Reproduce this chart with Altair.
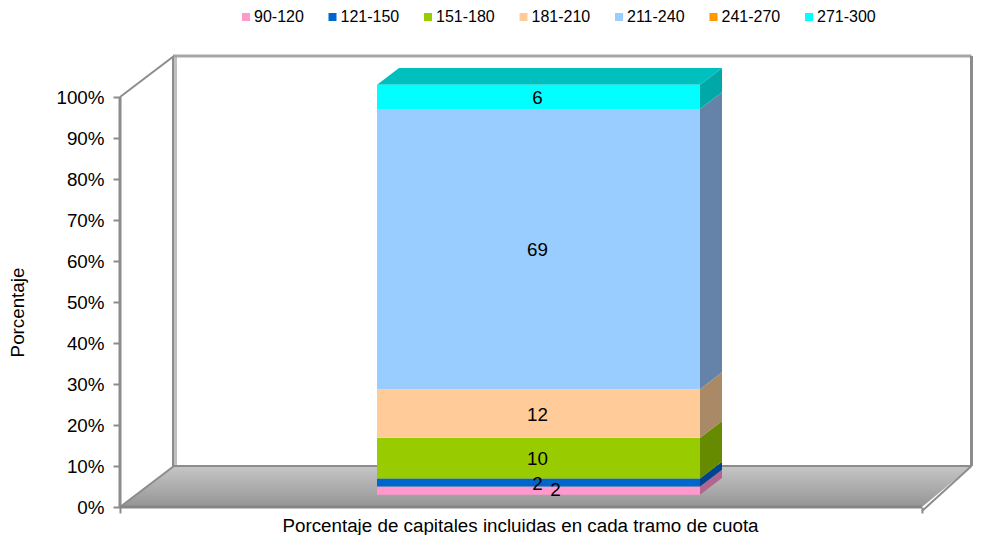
import altair as alt
import pandas as pd

# --- chart values -------------------------------------------------------
tramos = ["90-120", "121-150", "151-180", "181-210", "211-240", "241-270", "271-300"]
valores = [2, 2, 10, 12, 69, 0, 6]
front_colors = ["#ff99cc", "#0066cc", "#99cc00", "#ffcc99", "#99ccff", "#ff9900", "#00ffff"]
side_colors = ["#b0668f", "#00448f", "#668a00", "#aa8a66", "#6583a8", "#aa6600", "#00a8a8"]
top_color = "#00bfbf"
y_ticks = [0, 10, 20, 30, 40, 50, 60, 70, 80, 90, 100]
x_title = "Porcentaje de capitales incluidas en cada tramo de cuota"
y_title = "Porcentaje"

# --- layout of the pseudo-3D box ---------------------------------------
FONT = "Liberation Sans"
PLOT_W, W, H = 853, 851.5, 460
PCT_TOP = 112.2
floor_dx, floor_dy = 54, 10      # depth of the box (x px, y percent)
front_w = 802
bar_l, bar_r = 257, 580
bar_dx, bar_dy = 22, 4.1         # depth of the bar
bar_base = 3.0                   # where the bar stands on the floor

xs = alt.Scale(domain=[0, PLOT_W], range=[0, PLOT_W], nice=False, zero=False)
ys = alt.Scale(domain=[0, PCT_TOP], range=[H, 0], nice=False, zero=False)

x_axis = alt.Axis(
    values=[0, front_w], labels=False, grid=False, domain=False,
    tickSize=6, tickColor="#8c8c8c", tickWidth=2,
    title=x_title, titleFont=FONT, titleFontSize=18.8, titleFontWeight="normal",
    titleColor="#000000", titleX=400, titleY=24, titleBaseline="alphabetic", titleAnchor="middle")
y_axis = alt.Axis(
    values=y_ticks, labelExpr="datum.value + '%'", grid=False, domain=False,
    tickSize=7, tickColor="#8c8c8c", tickWidth=2, labelPadding=9,
    labelFont=FONT, labelFontSize=18.8, labelColor="#000000",
    title=y_title, titleFont=FONT, titleFontSize=18.8, titleFontWeight="normal",
    titleColor="#000000", titleX=-97, titleY=265, titleAngle=270, titleAnchor="middle",
    titleBaseline="alphabetic")


def X():
    return alt.X("x:Q", scale=xs, axis=x_axis)


def Y():
    return alt.Y("y:Q", scale=ys, axis=y_axis)


def X2():
    return alt.X2("x2:Q")


def Y2():
    return alt.Y2("y2:Q")


def area(xvals, lo, hi, fill):
    df = pd.DataFrame({"x": xvals, "y": lo, "y2": hi})
    return alt.Chart(df).mark_area(fill=fill, interpolate="linear").encode(x=X(), y=Y(), y2=Y2())


def line(pts, color, width):
    df = pd.DataFrame({"x": [p[0] for p in pts], "y": [p[1] for p in pts], "i": list(range(len(pts)))})
    return alt.Chart(df).mark_line(color=color, strokeWidth=width, clip=False).encode(x=X(), y=Y(), order="i:Q")


# Box: floor and walls
floor = alt.Chart(pd.DataFrame({
    "x": [0, floor_dx, front_w, W],
    "y": [0, 0, 0, floor_dy],
    "y2": [0, floor_dy, floor_dy, floor_dy],
})).mark_area(
    interpolate="linear",
    fill=alt.Gradient(gradient="linear", x1=0, y1=0, x2=0, y2=1,
                      stops=[alt.GradientStop(offset=0, color="#c6c6c6"),
                             alt.GradientStop(offset=1, color="#959595")]),
).encode(x=X(), y=Y(), y2=Y2())

wall_top = floor_dy + 100
box = [
    floor,
    line([(55.5, floor_dy), (55.5, wall_top)], "#bfbfbf", 3),
    line([(53, floor_dy), (53, wall_top)], "#8c8c8c", 2),
    line([(53, wall_top), (W, wall_top)], "#a6a6a6", 3),
    line([(W, floor_dy), (W, wall_top)], "#8c8c8c", 3),
    line([(0, 100), (floor_dx, wall_top)], "#8c8c8c", 2),
    line([(0, 0), (0, 100)], "#8c8c8c", 3),
    line([(0, 0), (floor_dx, floor_dy)], "#8c8c8c", 2),
    line([(front_w, -1), (W, floor_dy)], "#8c8c8c", 2),
    line([(floor_dx, floor_dy), (W, floor_dy)], "#8c8c8c", 2),
    line([(0, 0), (front_w, 0)], "#858585", 3),
]

# Stacked bar, normalised to 100 %
total = sum(valores)
rows, lo = [], bar_base
for t, v, side in zip(tramos, valores, side_colors):
    hi = lo + v / total * 100
    rows.append({"tramo": t, "valor": v, "y": lo, "y2": hi, "side": side})
    lo = hi
seg = pd.DataFrame(rows)
seg["x"] = bar_l
seg["x2"] = bar_r
bar_top = lo

sides = []
for r in rows:
    if r["valor"] > 0:
        sides.append(area([bar_r, bar_r + bar_dx],
                          [r["y"], r["y"] + bar_dy],
                          [r["y2"], r["y2"] + bar_dy],
                          r["side"]))

top = area([bar_l, bar_l + bar_dx, bar_r, bar_r + bar_dx],
           [bar_top, bar_top, bar_top, bar_top + bar_dy],
           [bar_top, bar_top + bar_dy, bar_top + bar_dy, bar_top + bar_dy],
           top_color)

front = alt.Chart(seg).mark_rect().encode(
    x=X(), x2=X2(), y=Y(), y2=Y2(),
    color=alt.Color("tramo:N", sort=tramos,
                    scale=alt.Scale(domain=tramos, range=front_colors),
                    legend=alt.Legend(
                        orient="none", legendX=118, legendY=-38, direction="horizontal",
                        title=None, symbolType="square", symbolSize=64, symbolStrokeWidth=0,
                        labelFont=FONT, labelFontSize=16, labelColor="#000000",
                        labelOffset=0, columnPadding=20.5, rowPadding=0, columns=7)),
)

# Data labels: the smallest slice's label is shoved aside to stay readable
lab = seg[seg["valor"] > 0].copy()
lab["x"] = (bar_l + bar_r) / 2
lab["y"] = (lab["y"] + lab["y2"]) / 2
lab.loc[lab.index[0], "x"] += 18
lab.loc[lab.index[0], "y"] += 0.4
labels = alt.Chart(lab).mark_text(font=FONT, fontSize=18.8, color="#000000", baseline="middle", dx=-1, dy=1).encode(
    x=X(), y=Y(), text="valor:Q")

chart = alt.layer(*box, *sides, top, front, labels).properties(
    width=PLOT_W, height=H,
    autosize=alt.AutoSizeParams(type="none"),
    padding={"left": 112, "top": 39, "right": 0, "bottom": 28},
    background="#ffffff",
).configure_view(stroke=None)

chart.save("out.html", embed_options={"renderer": "svg", "actions": False})
